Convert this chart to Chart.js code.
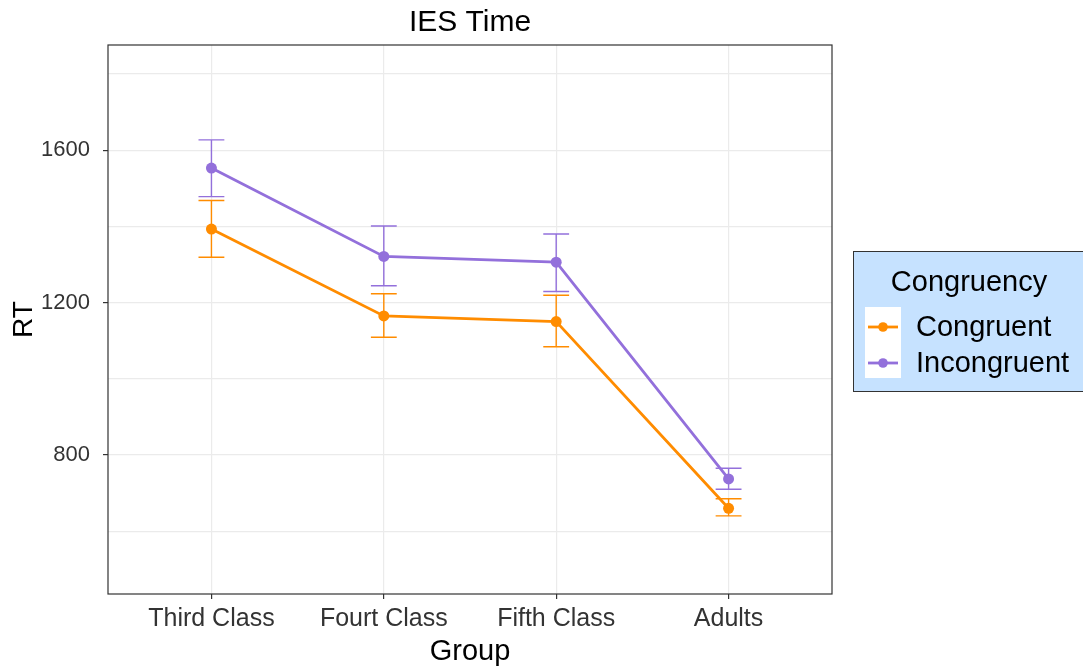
<!DOCTYPE html>
<html>
<head>
<meta charset="utf-8">
<script src="https://cdn.jsdelivr.net/npm/chart.js@4/dist/chart.umd.min.js"></script>
<style>
html,body{margin:0;padding:0;background:#fff;}
canvas{display:block;}
</style>
</head>
<body>
<canvas id="c" width="1083" height="666"></canvas>
<script>
const categories = ["Third Class", "Fourt Class", "Fifth Class", "Adults"];
const congruentMean = [1393, 1165, 1150, 660];
const congruentLow  = [1319, 1109, 1084, 640];
const congruentHigh = [1468, 1223, 1219, 685];
const incongruentMean = [1553, 1321, 1306, 737];
const incongruentLow  = [1478, 1244, 1229, 710];
const incongruentHigh = [1627, 1401, 1380, 765];
const yTicks = [600, 800, 1000, 1200, 1400, 1600, 1800];
const yLabeled = [800, 1200, 1600];
const seriesNames = ["Congruent", "Incongruent"];
const legendTitle = "Congruency";
const chartTitle = "IES Time";

const ORANGE = "#FF8C00", PURPLE = "#9370DB";
const FONT = "'Liberation Sans', Arial, sans-serif";

function pts(vals){ return vals.map((v,i)=>({x:i+1, y:v})); }

const errorBars = {
  id: 'errorBars',
  beforeDatasetsDraw(chart){
    const ctx = chart.ctx, xs = chart.scales.x, ys = chart.scales.y;
    const sets = [[congruentLow, congruentHigh, ORANGE],[incongruentLow, incongruentHigh, PURPLE]];
    ctx.save();
    ctx.lineWidth = 1.4;
    sets.forEach(([lo, hi, col])=>{
      ctx.strokeStyle = col;
      lo.forEach((l,i)=>{
        const x = xs.getPixelForValue(i+1);
        const xl = xs.getPixelForValue(i+1-0.075), xr = xs.getPixelForValue(i+1+0.075);
        const y1 = ys.getPixelForValue(l), y2 = ys.getPixelForValue(hi[i]);
        ctx.beginPath();
        ctx.moveTo(x,y1); ctx.lineTo(x,y2);
        ctx.moveTo(xl,y1); ctx.lineTo(xr,y1);
        ctx.moveTo(xl,y2); ctx.lineTo(xr,y2);
        ctx.stroke();
      });
    });
    ctx.restore();
  }
};

const decor = {
  id: 'decor',
  afterDraw(chart){
    const ctx = chart.ctx, a = chart.chartArea;
    ctx.save();
    // panel border
    ctx.strokeStyle = "#333333";
    ctx.lineWidth = 1.2;
    ctx.strokeRect(a.left, a.top, a.right-a.left, a.bottom-a.top);
    // title
    ctx.fillStyle = "#000";
    ctx.font = "30px " + FONT;
    ctx.textAlign = "center";
    ctx.textBaseline = "middle";
    ctx.fillText(chartTitle, (a.left+a.right)/2, 23);
    // legend
    const lx = 853, ly = 251, lw = 240, lh = 140;
    ctx.fillStyle = "#C6E2FF";
    ctx.fillRect(lx, ly, lw, lh);
    ctx.strokeStyle = "#333333";
    ctx.lineWidth = 1;
    ctx.strokeRect(lx+0.5, ly+0.5, lw, lh);
    ctx.fillStyle = "#000";
    ctx.font = "29px " + FONT;
    ctx.textAlign = "center";
    ctx.fillText(legendTitle, 969, 283);
    ctx.fillStyle = "#fff";
    ctx.fillRect(865, 307, 36, 71);
    const cols = [ORANGE, PURPLE], ys = [327, 363];
    ctx.textAlign = "left";
    seriesNames.forEach((n,i)=>{
      ctx.strokeStyle = cols[i];
      ctx.lineWidth = 2.8;
      ctx.beginPath(); ctx.moveTo(868, ys[i]); ctx.lineTo(898, ys[i]); ctx.stroke();
      ctx.fillStyle = cols[i];
      ctx.beginPath(); ctx.arc(883, ys[i], 4.8, 0, Math.PI*2); ctx.fill();
      ctx.fillStyle = "#000";
      ctx.fillText(n, 916, ys[i] + 1);
    });
    ctx.restore();
  }
};

new Chart(document.getElementById('c'), {
  type: 'line',
  data: {
    datasets: [
      {label: seriesNames[0], data: pts(congruentMean), borderColor: ORANGE, backgroundColor: ORANGE,
       borderWidth: 2.8, pointRadius: 5.5, pointHoverRadius: 5.5, pointBorderWidth: 0, tension: 0},
      {label: seriesNames[1], data: pts(incongruentMean), borderColor: PURPLE, backgroundColor: PURPLE,
       borderWidth: 2.8, pointRadius: 5.5, pointHoverRadius: 5.5, pointBorderWidth: 0, tension: 0}
    ]
  },
  options: {
    responsive: false,
    animation: false,
    events: [],
    layout: {padding: {top: 45, right: 251, left: 0, bottom: 0}},
    plugins: {legend: {display: false}, title: {display: false}, tooltip: {enabled: false}},
    scales: {
      x: {
        type: 'linear', min: 0.4, max: 4.6,
        afterBuildTicks(s){ s.ticks = categories.map((c,i)=>({value: i+1})); },
        afterFit(s){ s.height = 72; },
        ticks: {callback: v => categories[v-1], color: "#333333", font: {family: FONT, size: 25}, padding: 5, maxRotation: 0, autoSkip: false},
        grid: {color: "#ebebeb", lineWidth: 1.2, tickLength: 5, tickColor: "#333333"},
        border: {display: false},
        title: {display: true, text: "Group", color: "#000", font: {family: FONT, size: 29, lineHeight: 1}, padding: {top: 1, bottom: 0}}
      },
      y: {
        type: 'linear', min: 435, max: 1876,
        afterBuildTicks(s){ s.ticks = yTicks.map(v=>({value: v})); },
        afterFit(s){ s.width = 108; },
        ticks: {callback: v => yLabeled.includes(v) ? String(v) : '', color: "#333333", font: {family: FONT, size: 22}, padding: 13},
        grid: {color: "#ebebeb", lineWidth: 1.2, tickLength: 5,
               tickColor: c => (c.tick && yLabeled.includes(c.tick.value)) ? "#333333" : "rgba(0,0,0,0)"},
        border: {display: false},
        title: {display: true, text: "RT", color: "#000", font: {family: FONT, size: 28, lineHeight: 1}, padding: {top: 10, bottom: 0}}
      }
    }
  },
  plugins: [errorBars, decor]
});
</script>
</body>
</html>
